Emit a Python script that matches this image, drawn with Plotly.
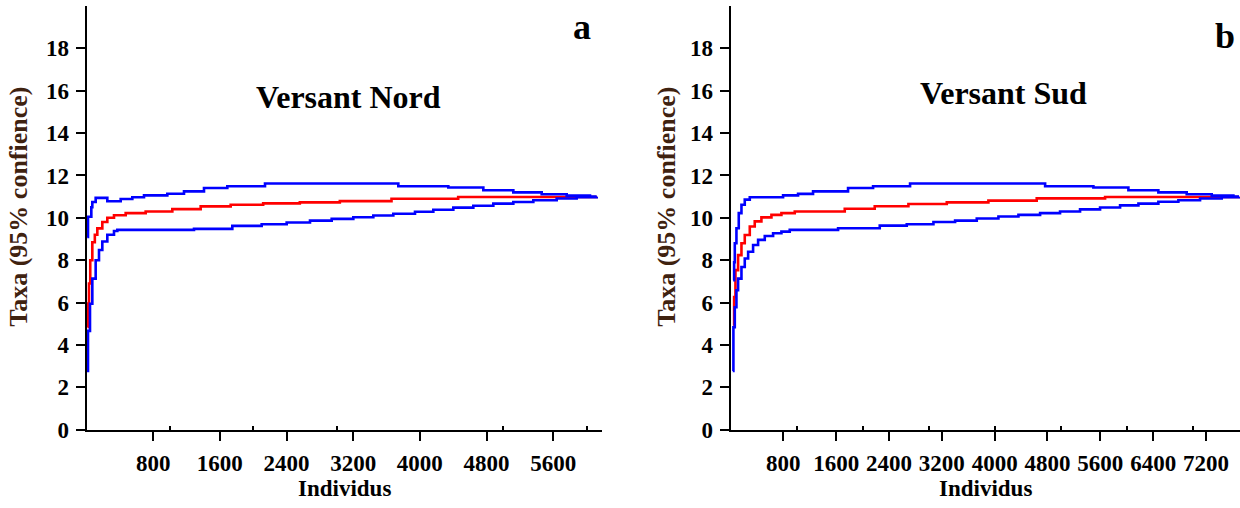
import plotly.graph_objects as go

# ---------------- data ----------------
# Panel a : Versant Nord
a_mean_x = [10, 18, 30, 45, 70, 100, 130, 190, 250, 330, 470, 710, 1030, 1370, 1730, 2120, 2560, 3040, 3660, 4460, 6122]
a_mean_y = [4.85, 5.95, 6.9, 8.0, 8.85, 9.2, 9.5, 9.8, 10.0, 10.12, 10.22, 10.3, 10.41, 10.54, 10.62, 10.68, 10.73, 10.79, 10.9, 10.98, 11.0]

a_up_x = [8, 18, 58, 70, 110, 250, 410, 550, 690, 970, 1170, 1410, 1690, 2142, 3742, 4342, 4762, 5122, 5462, 5762, 6042, 6122]
a_up_y = [9.1, 10.05, 10.5, 10.75, 10.94, 10.78, 10.89, 10.97, 11.06, 11.14, 11.25, 11.41, 11.49, 11.62, 11.49, 11.43, 11.3, 11.2, 11.11, 11.05, 11.0, 11.0]

a_lo_x = [4, 18, 42, 70, 110, 150, 190, 250, 330, 370, 1290, 1750, 2102, 2402, 2682, 2942, 3202, 3442, 3682, 3942, 4162, 4402, 4642, 4882, 5122, 5362, 5642, 5882, 6122]
a_lo_y = [2.77, 4.66, 5.94, 7.13, 8.0, 8.48, 8.88, 9.2, 9.38, 9.43, 9.48, 9.62, 9.7, 9.78, 9.87, 9.95, 10.03, 10.11, 10.19, 10.29, 10.38, 10.48, 10.57, 10.67, 10.75, 10.83, 10.91, 10.97, 11.0]

# Panel b : Versant Sud
b_mean_x = [44, 55, 75, 115, 166, 216, 292, 367, 468, 620, 771, 973, 1730, 2184, 2694, 3275, 3905, 4637, 5672, 7700]
b_mean_y = [4.91, 6.26, 7.53, 8.24, 8.8, 9.19, 9.59, 9.83, 10.02, 10.14, 10.22, 10.3, 10.43, 10.55, 10.65, 10.73, 10.81, 10.92, 10.98, 11.0]

b_up_x = [40, 55, 65, 90, 125, 166, 216, 292, 796, 1023, 1250, 1780, 2159, 2719, 4764, 5495, 6025, 6479, 6908, 7287, 7615, 7700]
b_up_y = [7.05, 7.9, 8.8, 9.51, 10.22, 10.62, 10.86, 10.97, 11.06, 11.13, 11.25, 11.41, 11.49, 11.62, 11.49, 11.43, 11.3, 11.2, 11.11, 11.05, 11.0, 11.0]

b_lo_x = [34, 44, 65, 90, 115, 166, 216, 267, 342, 418, 519, 645, 771, 897, 1629, 2260, 2669, 3073, 3401, 3729, 4057, 4360, 4688, 4990, 5293, 5596, 5899, 6177, 6479, 6782, 7110, 7438, 7700]
b_lo_y = [2.77, 4.83, 5.78, 6.58, 7.13, 7.68, 8.08, 8.4, 8.72, 8.96, 9.14, 9.27, 9.35, 9.43, 9.51, 9.63, 9.7, 9.8, 9.87, 9.97, 10.06, 10.14, 10.22, 10.3, 10.4, 10.49, 10.59, 10.67, 10.76, 10.83, 10.91, 10.97, 11.0]

a_xticks = [800, 1600, 2400, 3200, 4000, 4800, 5600]
b_xticks = [800, 1600, 2400, 3200, 4000, 4800, 5600, 6400, 7200]
a_minor = [1000, 2000, 3000, 5000, 6000]
b_minor = [1000, 2000, 3000, 4000, 5000, 6000, 7000]
y_ticks = [0, 2, 4, 6, 8, 10, 12, 14, 16, 18]

panel_titles = ["Versant Nord", "Versant Sud"]
panel_letters = ["a", "b"]
x_title = "Individus"
y_title = "Taxa (95% confience)"

# ---------------- figure ----------------
SERIF = "Liberation Serif, Times New Roman, serif"
RED = "#ff0000"
BLUE = "#0000ff"
LW = 2.6

fig = go.Figure()

def add(x, y, color, xa, ya):
    fig.add_trace(go.Scatter(x=x, y=y, mode="lines", line=dict(color=color, width=LW, shape="hv"),
                             xaxis=xa, yaxis=ya, showlegend=False, hoverinfo="skip"))

add(a_mean_x, a_mean_y, RED, "x", "y")
add(a_up_x, a_up_y, BLUE, "x", "y")
add(a_lo_x, a_lo_y, BLUE, "x", "y")
add(b_mean_x, b_mean_y, RED, "x2", "y2")
add(b_up_x, b_up_y, BLUE, "x2", "y2")
add(b_lo_x, b_lo_y, BLUE, "x2", "y2")

W, H = 1240, 508

# vertical pixel position on the page for a target vertical position in the picture
def py(y_target):
    return (y_target - 8.0) / 0.9685

def fy(y_target):
    return 1 - py(y_target) / H

y_dom = [fy(435), fy(14)]
xa_dom = [86.5 / W, 602 / W]
xb_dom = [730.5 / W, 1.0]

tickfont = dict(family=SERIF, size=23, color="black", weight="bold")

def xaxis(dom, rng, ticks, minor, anchor):
    return dict(domain=dom, range=rng, anchor=anchor, showgrid=False, zeroline=False,
                showline=True, linecolor="black", linewidth=2,
                tickmode="array", tickvals=ticks, ticktext=[str(t) for t in ticks],
                ticks="outside", ticklen=9, tickwidth=2, tickcolor="black",
                tickfont=tickfont, ticklabelstandoff=3,
                minor=dict(tickmode="array", tickvals=minor, ticks="inside", ticklen=4,
                           tickwidth=1.5, tickcolor="black", showgrid=False))

def yaxis(anchor):
    return dict(domain=y_dom, range=[0, 20], anchor=anchor, showgrid=False, zeroline=False,
                showline=True, linecolor="black", linewidth=2,
                tickmode="array", tickvals=y_ticks, ticktext=[str(t) for t in y_ticks],
                ticks="outside", ticklen=9, tickwidth=2, tickcolor="black",
                tickfont=tickfont, ticklabelstandoff=2)

fig.update_layout(
    width=W, height=H,
    margin=dict(l=0, r=0, t=0, b=0),
    paper_bgcolor="white", plot_bgcolor="white",
    xaxis=xaxis(xa_dom, [0, 6186], a_xticks, a_minor, "y"),
    yaxis=yaxis("x"),
    xaxis2=xaxis(xb_dom, [0, 7715], b_xticks, b_minor, "y2"),
    yaxis2=yaxis("x2"),
)

ann = []
# panel titles
for txt, x, y in [(panel_titles[0], 348.8, 104), (panel_titles[1], 1003, 100)]:
    ann.append(dict(text=txt, x=x / W, y=fy(y), xref="paper", yref="paper",
                    xanchor="center", yanchor="middle", showarrow=False,
                    font=dict(family=SERIF, size=32, color="black", weight="bold")))
# panel letters
for txt, x, y in [(panel_letters[0], 582, 35), (panel_letters[1], 1225, 44)]:
    ann.append(dict(text=txt, x=x / W, y=fy(y), xref="paper", yref="paper",
                    xanchor="center", yanchor="middle", showarrow=False,
                    font=dict(family=SERIF, size=36, color="black", weight="bold")))
# x titles (kept inside the page)
for x in [344, 985.5]:
    ann.append(dict(text=x_title, x=x / W, y=1 - 501 / H, xref="paper", yref="paper",
                    xanchor="center", yanchor="middle", showarrow=False,
                    font=dict(family=SERIF, size=23, color="black", weight="bold")))
# y titles
for x in [19, 667]:
    ann.append(dict(text=y_title, x=x / W, y=fy(213.5), xref="paper", yref="paper",
                    xanchor="center", yanchor="middle", showarrow=False, textangle=-90,
                    font=dict(family=SERIF, size=26, color="#3f2210", weight="bold")))
fig.update_layout(annotations=ann)

POST = (
    "var h=document.documentElement, b=document.body;"
    "h.style.margin='0'; h.style.padding='0'; h.style.overflow='hidden'; h.style.height='508px';"
    "b.style.margin='0'; b.style.padding='0'; b.style.overflow='hidden'; b.style.height='508px';"
    "var d=document.getElementsByClassName('plotly-graph-div')[0];"
    "d.style.position='fixed'; d.style.top='0px'; d.style.left='0px';"
)
fig.write_html("out.html", config={"displayModeBar": False}, post_script=POST)
